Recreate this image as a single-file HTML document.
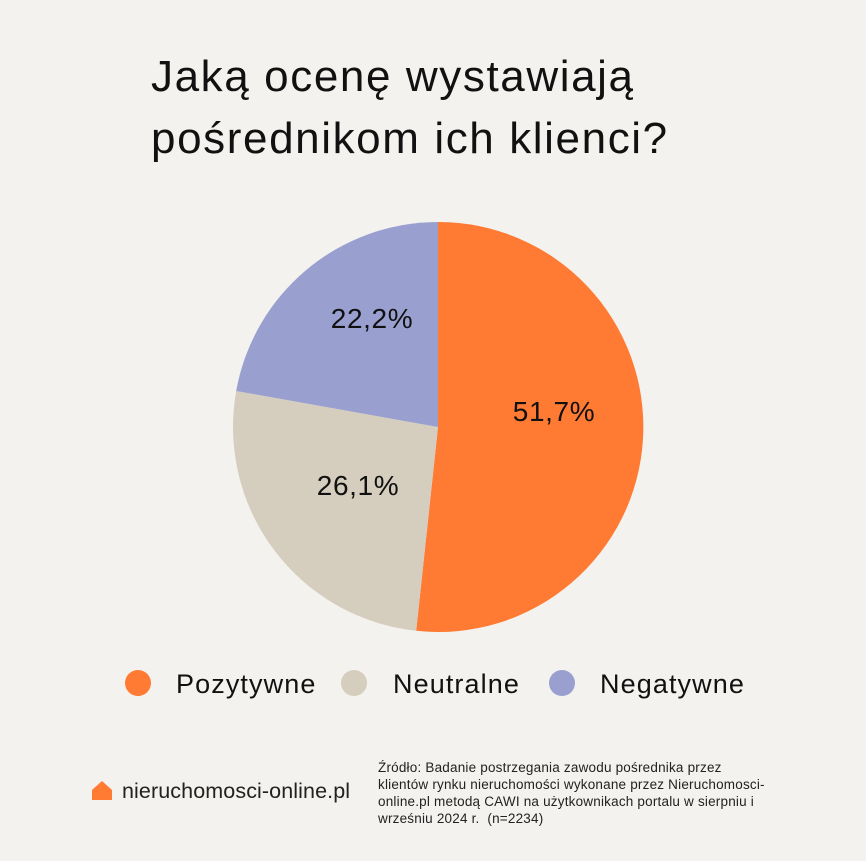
<!DOCTYPE html>
<html><head><meta charset="utf-8"><style>
body{margin:0;width:866px;height:861px;background:#F4F2EE;font-family:"Liberation Sans",sans-serif;position:relative;overflow:hidden;color:#111}
.t{position:absolute;left:151px;top:46px;font-size:44px;line-height:62px;color:#111;letter-spacing:1.6px;white-space:nowrap}
.src{position:absolute;left:378px;top:759px;font-size:13.5px;line-height:17px;color:#222;width:460px;letter-spacing:0.2px;white-space:nowrap}
.logo{position:absolute;left:122px;top:779px;font-size:21.5px;color:#222;letter-spacing:0.1px}
</style></head><body>
<div class="t">Jaką ocenę wystawiają<br>pośrednikom ich klienci?</div>
<svg width="866" height="861" style="position:absolute;left:0;top:0">
<path d="M438,427 L438,222 A205,205 0 1 1 416.2,630.8 Z" fill="#FF7A33"/>
<path d="M438,427 L416.2,630.8 A205,205 0 0 1 236.2,391.0 Z" fill="#D5CDBD"/>
<path d="M438,427 L236.2,391.0 A205,205 0 0 1 438,222 Z" fill="#99A0D0"/>
<g font-family="Liberation Sans,sans-serif" font-size="28" fill="#111" text-anchor="middle" letter-spacing="0.6">
<text x="554" y="421">51,7%</text>
<text x="358" y="495">26,1%</text>
<text x="372" y="328">22,2%</text>
</g>
<circle cx="138" cy="683" r="13" fill="#FF7A33"/>
<circle cx="354" cy="683" r="13" fill="#D5CDBD"/>
<circle cx="562" cy="683" r="13" fill="#99A0D0"/>
<g font-family="Liberation Sans,sans-serif" font-size="27" fill="#111" letter-spacing="1.1">
<text x="176" y="693">Pozytywne</text>
<text x="393" y="693">Neutralne</text>
<text x="600" y="693">Negatywne</text>
</g>
<path d="M92,800 L92,790 L102,781 L112,790 L112,800 Z" fill="#FF7A33"/>
</svg>
<div class="logo">nieruchomosci-online.pl</div>
<div class="src">Źródło: Badanie postrzegania zawodu pośrednika przez<br>klientów rynku nieruchomości wykonane przez Nieruchomosci-<br>online.pl metodą CAWI na użytkownikach portalu w sierpniu i<br>wrześniu 2024 r.&nbsp; (n=2234)</div>
</body></html>
